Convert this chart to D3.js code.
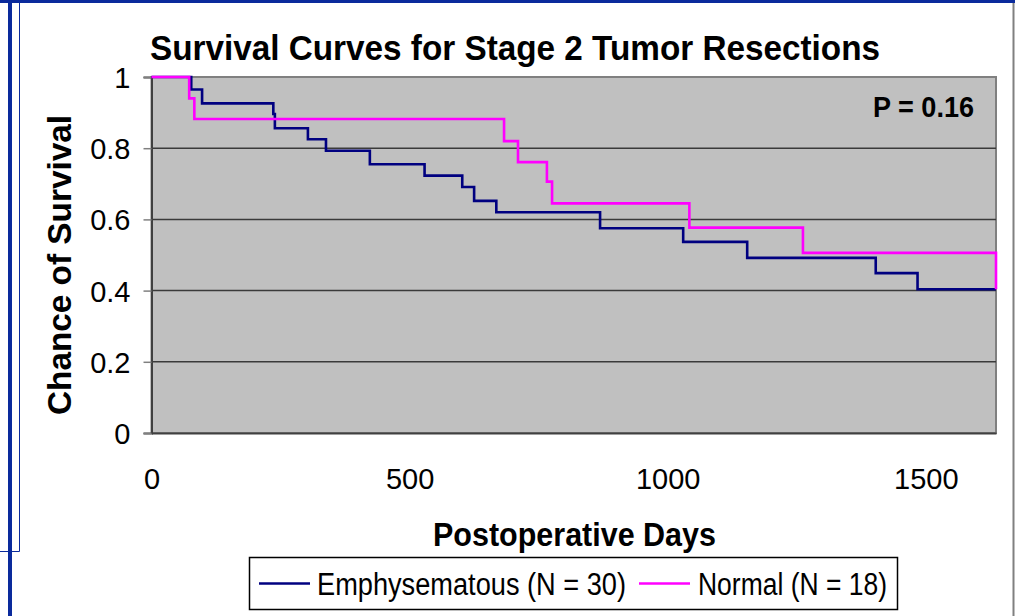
<!DOCTYPE html>
<html><head><meta charset="utf-8">
<script src="https://cdn.jsdelivr.net/npm/d3@7"></script>
<style>
html,body{margin:0;padding:0;background:#fff;}
svg{display:block;font-family:"Liberation Sans",Arial,sans-serif;}
</style></head>
<body>
<svg id="c" width="1015" height="616"></svg>
<script>
// ---- data ----
const title = "Survival Curves for Stage 2 Tumor Resections";
const xLabel = "Postoperative Days";
const yLabel = "Chance of Survival";
const pText = "P = 0.16";
const xTicks = [0, 500, 1000, 1500];
const yTicks = [0, 0.2, 0.4, 0.6, 0.8, 1];
const yTickLabels = ["0", "0.2", "0.4", "0.6", "0.8", "1"];
const seriesNames = ["Emphysematous (N = 30)", "Normal (N = 18)"];
const emphDays = [0, 77, 98, 236, 239, 303, 338, 423, 529, 602, 625, 668, 869, 1030, 1154, 1403, 1484, 1636];
const emphSurv = [1, 0.965, 0.926, 0.896, 0.856, 0.825, 0.793, 0.755, 0.723, 0.691, 0.652, 0.620, 0.575, 0.537, 0.492, 0.449, 0.404, 0.404];
const normDays = [0, 73, 83, 683, 710, 766, 776, 1042, 1262, 1636];
const normSurv = [1, 0.940, 0.882, 0.820, 0.761, 0.706, 0.645, 0.577, 0.506, 0.404];
const xMax = 1636;

const svg = d3.select("#c");
const L = 151.5, R = 996, T = 77, B = 433;
const x = d3.scaleLinear().domain([0, xMax]).range([L, R]);
const y = d3.scaleLinear().domain([0, 1]).range([B, T]);

// outer frame
svg.append("rect").attr("x",0).attr("y",0).attr("width",1015).attr("height",3).attr("fill","#0a2a9c");
svg.append("rect").attr("x",8).attr("y",0).attr("width",4).attr("height",616).attr("fill","#0a2a9c");
svg.append("line").attr("x1",19.5).attr("x2",19.5).attr("y1",3).attr("y2",551.5).attr("stroke","#0a2a9c").attr("stroke-width",1);
svg.append("line").attr("x1",0).attr("x2",19.5).attr("y1",551.5).attr("y2",551.5).attr("stroke","#0a2a9c").attr("stroke-width",1);
svg.append("line").attr("x1",1013.5).attr("x2",1013.5).attr("y1",3).attr("y2",616).attr("stroke","#808080").attr("stroke-width",2);

// plot background
svg.append("rect").attr("x",L).attr("y",T).attr("width",R-L).attr("height",B-T).attr("fill","#c0c0c0")
  .attr("stroke","#808080").attr("stroke-width",2);

// gridlines
svg.append("g").selectAll("line").data(yTicks.filter(d=>d>0 && d<1)).join("line")
  .attr("x1",L).attr("x2",R).attr("y1",d=>y(d)).attr("y2",d=>y(d))
  .attr("stroke","#3a3a3a").attr("stroke-width",1.5);

// y axis
const yAxis = d3.axisLeft(y).tickValues(yTicks).tickSize(8).tickFormat((d,i)=>yTickLabels[i]);
const gy = svg.append("g").attr("transform",`translate(${L},0)`).call(yAxis);
gy.select(".domain").attr("stroke","#404040").attr("stroke-width",2);
gy.selectAll(".tick line").attr("stroke","#808080").attr("stroke-width",1.5);
gy.selectAll(".tick text").attr("x",-21).attr("dy","0.36em").attr("font-size",29)
  .attr("font-family","Liberation Sans, Arial, sans-serif").attr("fill","#000");

// x axis
const xAxis = d3.axisBottom(x).tickValues(xTicks).tickSize(0).tickFormat(d3.format("d"));
const gx = svg.append("g").attr("transform",`translate(0,${B})`).call(xAxis);
gx.select(".domain").attr("stroke","#404040").attr("stroke-width",2);
gx.selectAll(".tick text").attr("y",56).attr("dy",0).attr("font-size",29)
  .attr("font-family","Liberation Sans, Arial, sans-serif").attr("fill","#000");

// lines
const line = d3.line().x(d=>x(d[0])).y(d=>y(d[1])).curve(d3.curveStepAfter);
const emph = emphDays.map((d,i)=>[d, emphSurv[i]]);
const norm = normDays.map((d,i)=>[d, normSurv[i]]);
svg.append("path").attr("d",line(emph)).attr("fill","none").attr("stroke","#000080").attr("stroke-width",2.6);
svg.append("path").attr("d",line(norm)).attr("fill","none").attr("stroke","#ff00ff").attr("stroke-width",2.6);

// texts
svg.append("text").attr("x",150).attr("y",60).attr("font-size",35).attr("font-weight","bold")
  .attr("textLength",730).attr("lengthAdjust","spacingAndGlyphs").text(title);
svg.append("text").attr("x",873).attr("y",117).attr("font-size",29).attr("font-weight","bold")
  .attr("textLength",101).attr("lengthAdjust","spacingAndGlyphs").text(pText);
svg.append("text").attr("transform","translate(71,415) rotate(-90)").attr("font-size",34).attr("font-weight","bold")
  .attr("textLength",300).attr("lengthAdjust","spacingAndGlyphs").text(yLabel);
svg.append("text").attr("x",433).attr("y",546).attr("font-size",33).attr("font-weight","bold")
  .attr("textLength",283).attr("lengthAdjust","spacingAndGlyphs").text(xLabel);

// legend
const lg = svg.append("g");
lg.append("rect").attr("x",249.5).attr("y",557.5).attr("width",648).attr("height",52)
  .attr("fill","#fff").attr("stroke","#000").attr("stroke-width",1.5);
const legItems = [
  {name:seriesNames[0], color:"#000080", lx1:259, lx2:310, tx:317, tw:309},
  {name:seriesNames[1], color:"#ff00ff", lx1:639, lx2:690, tx:698, tw:189}
];
legItems.forEach(it=>{
  lg.append("line").attr("x1",it.lx1).attr("x2",it.lx2).attr("y1",583.5).attr("y2",583.5)
    .attr("stroke",it.color).attr("stroke-width",2.6);
  lg.append("text").attr("x",it.tx).attr("y",595).attr("font-size",31)
    .attr("textLength",it.tw).attr("lengthAdjust","spacingAndGlyphs").text(it.name);
});
</script>
</body></html>
